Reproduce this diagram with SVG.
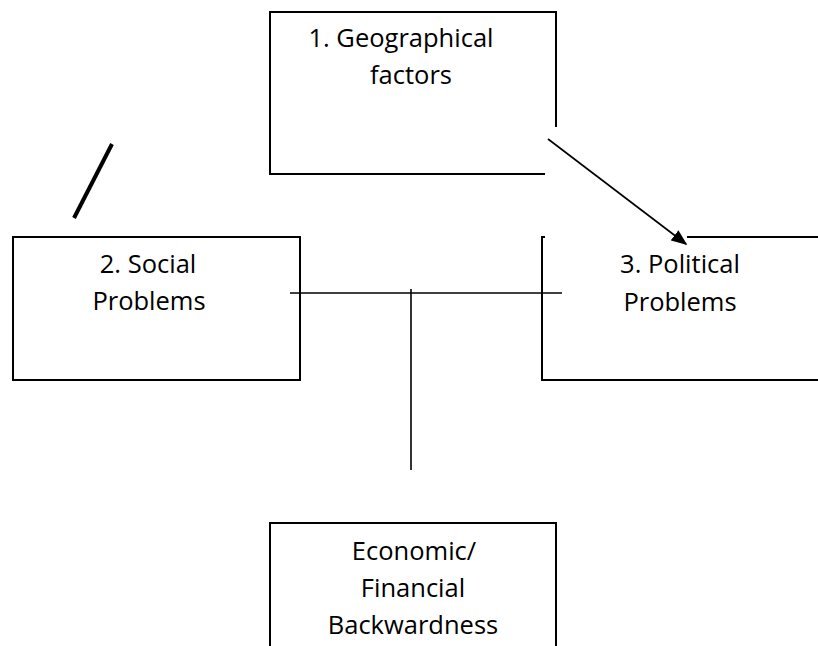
<svg xmlns="http://www.w3.org/2000/svg" width="818" height="646" viewBox="0 0 818 646">
<style>
.box{fill:none;stroke:#000;stroke-width:2}
.conn{fill:none;stroke:#000;stroke-width:1.6}
.t{font-family:"Open Sans","Noto Sans",sans-serif;font-size:25.5px;fill:#000;text-anchor:middle}
</style>
<defs>
<marker id="ah" markerWidth="10" markerHeight="8" refX="9" refY="4" orient="auto" markerUnits="strokeWidth">
<path d="M0,0 L10,4 L0,8 Z" fill="#000"/>
</marker>
</defs>
<rect width="818" height="646" fill="#fff"/>
<g id="node1">
<path class="box" d="M545,174 H270 V12 H556 V127"/>
<text class="t" x="401" y="47">1. Geographical</text>
<text class="t" x="411" y="84">factors</text>
</g>
<g id="node2">
<rect class="box" x="13" y="237" width="287" height="143"/>
<text class="t" x="148" y="273">2. Social</text>
<text class="t" x="149" y="310">Problems</text>
</g>
<g id="node3">
<path class="box" d="M545,237 H542 V380 H820"/>
<path class="box" d="M687,237 H820"/>
<text class="t" x="680" y="273">3. Political</text>
<text class="t" x="680" y="311">Problems</text>
</g>
<g id="node4">
<path class="box" d="M270,650 V523 H556 V650"/>
<text class="t" x="414" y="560">Economic/</text>
<text class="t" x="413" y="597">Financial</text>
<text class="t" x="413" y="634">Backwardness</text>
</g>
<g id="connectors">
<line class="conn" x1="290" y1="293" x2="562" y2="293"/>
<line class="conn" x1="411" y1="289" x2="411" y2="470"/>
<line class="conn" x1="548" y1="139" x2="686" y2="244" marker-end="url(#ah)"/>
<line x1="112" y1="144" x2="74" y2="218" stroke="#000" stroke-width="4"/>
</g>
</svg>
